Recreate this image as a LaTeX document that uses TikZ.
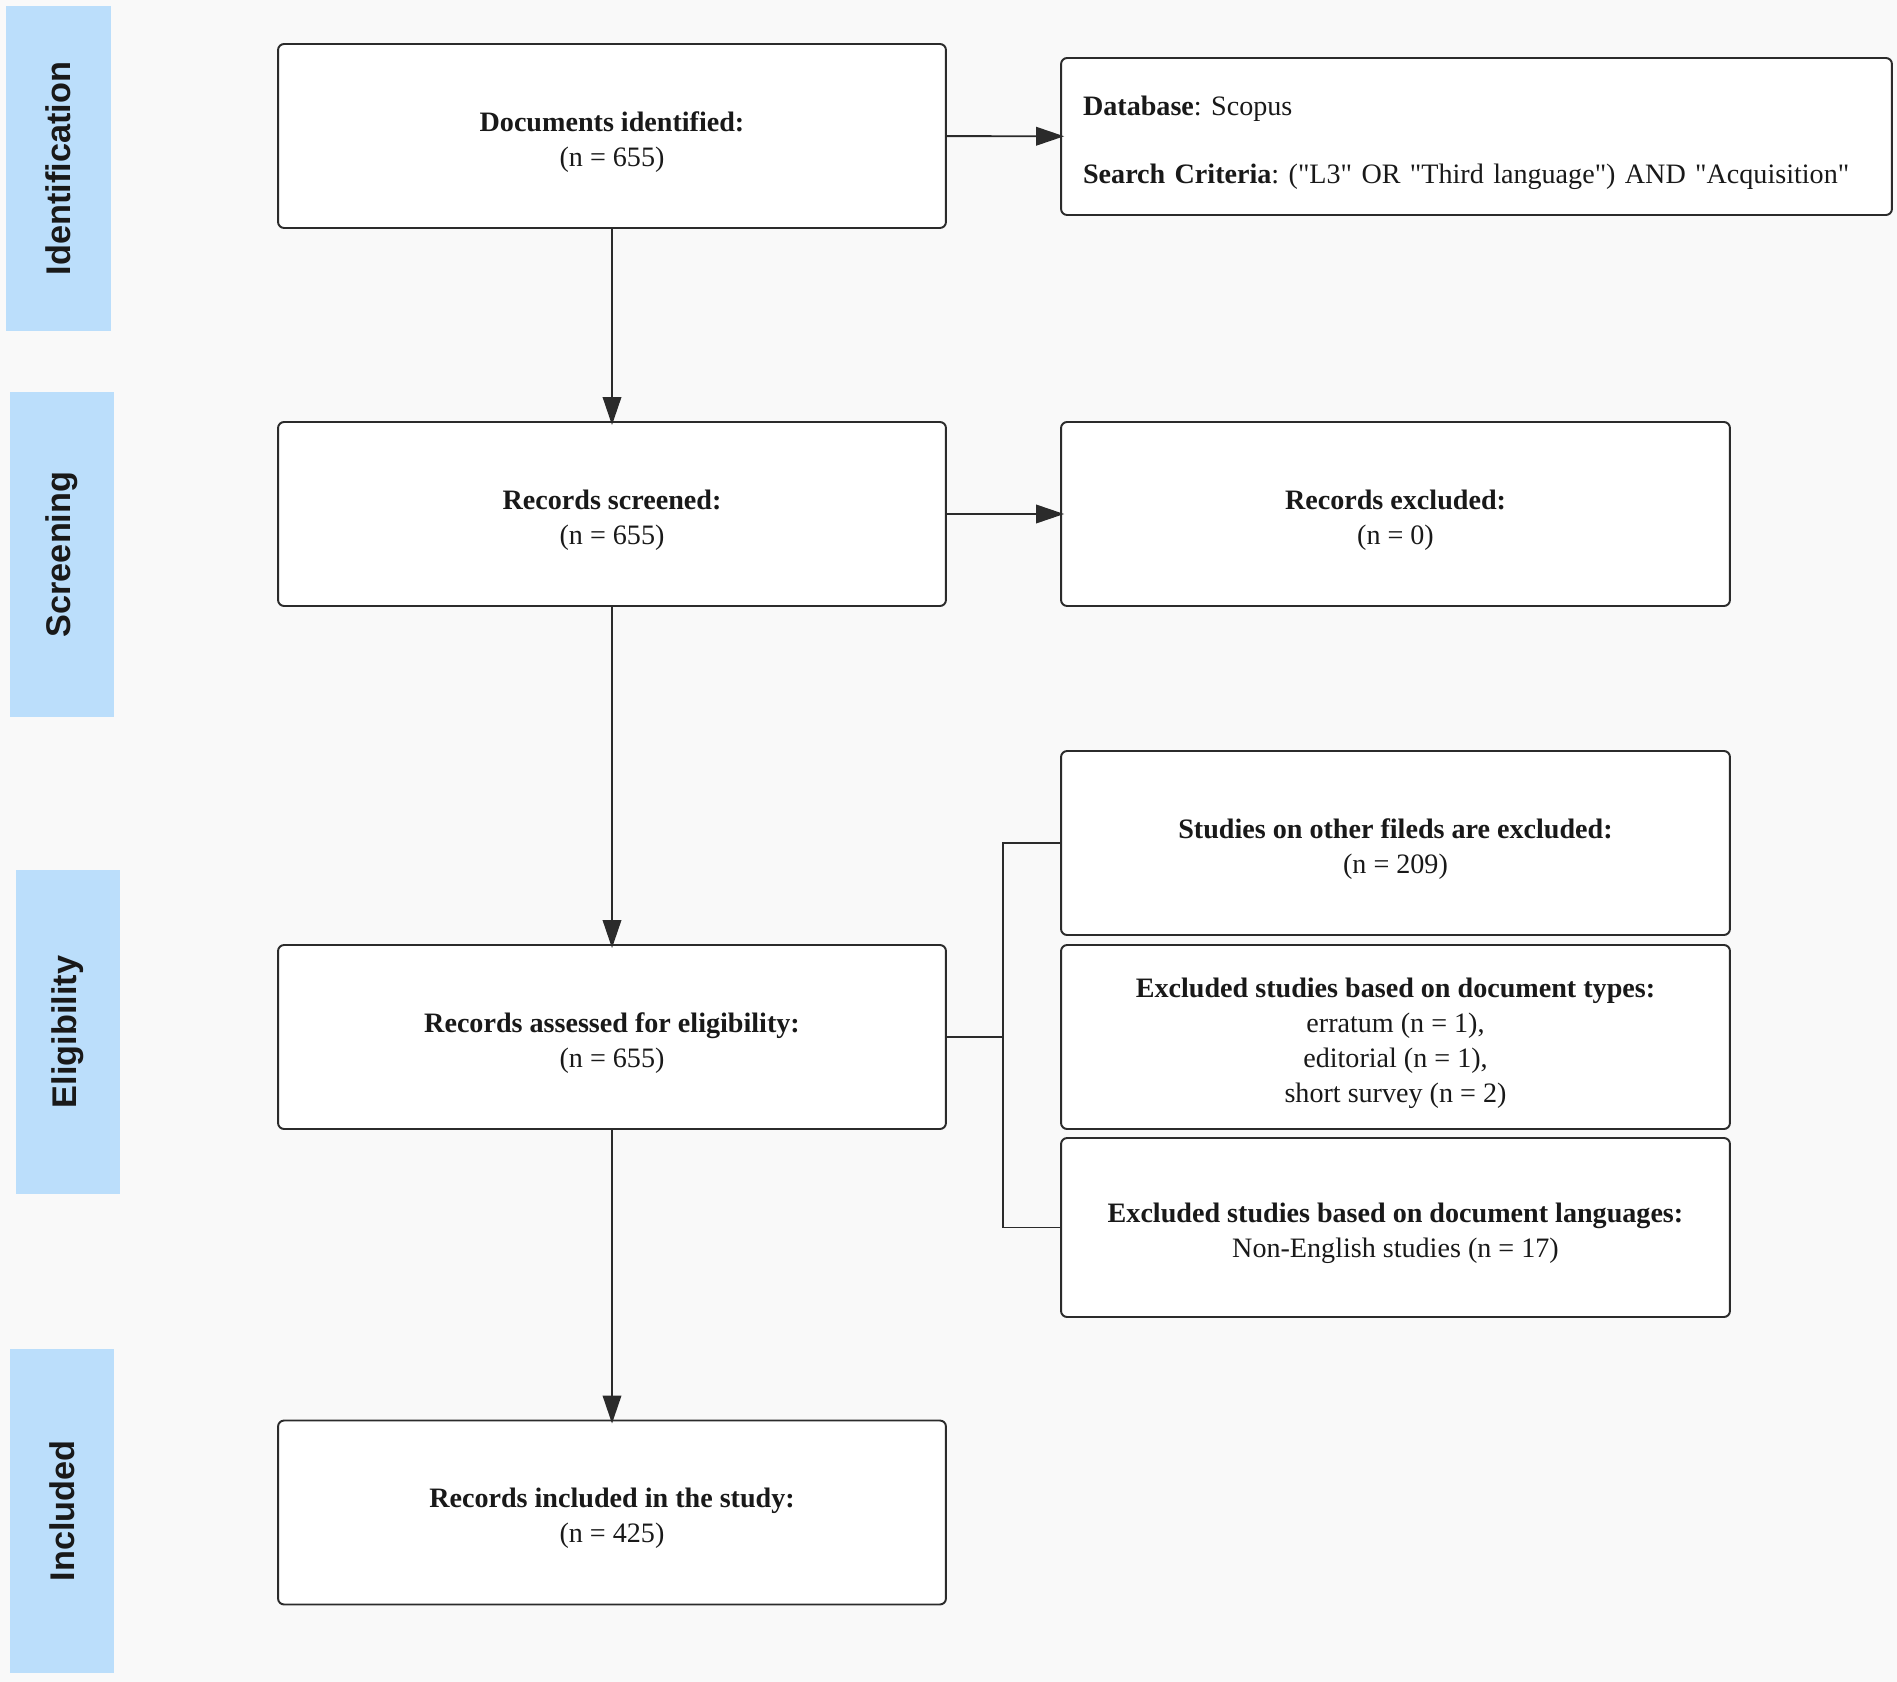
\documentclass[tikz,border=0pt]{standalone}
\usepackage{fontspec}
\setmainfont{Liberation Serif}[Ligatures=TeXOff]
\newfontfamily\stagefont{Liberation Sans}
\usetikzlibrary{arrows.meta}
\definecolor{stageblue}{HTML}{BBDEFB}
\definecolor{pagegrey}{HTML}{F9F9F9}
\definecolor{inkgrey}{HTML}{2B2B2B}
\frenchspacing
\newcommand\boxstrut{\rule{0pt}{18pt}}

\begin{document}
\begin{tikzpicture}[x=0.02cm, y=-0.02cm, line width=1.1pt,
  font=\fontsize{16}{20}\selectfont,
  box/.style={draw=inkgrey, fill=white, rounded corners=0.12cm, align=center,
    minimum width=13.36cm, minimum height=3.68cm, text=black!90},
  stage/.style={fill=stageblue, rotate=90, minimum width=6.5cm, minimum height=2.1cm,
    text=black!90, font=\stagefont\bfseries\fontsize{19.5}{23}\selectfont},
  flow/.style={draw=inkgrey, shorten >=-0.08cm, -{Triangle[length=0.56cm,width=0.37cm]}},
  link/.style={draw=inkgrey}]

  % ---------- page ----------
  \fill[pagegrey] (0,0) rectangle (1897,1682);
  \useasboundingbox (0,0) rectangle (1897,1682);

  % ---------- stage bars ----------
  \node[stage] (identbar)  at (58.5,168.5) {Identification};
  \node[stage] (screenbar) at (62,554.5)   {Screening};
  \node[stage] (eligbar)   at (68,1032)    {Eligibility};
  \node[stage] (inclbar)   at (62,1511)    {Included};

  % ---------- main column ----------
  \node[box] (ident)  at (612,136)     {\boxstrut\textbf{Documents identified:}\\(n = 655)};
  \node[box] (screen) at (612,514)     {\boxstrut\textbf{Records screened:}\\(n = 655)};
  \node[box] (assess) at (612,1037)    {\boxstrut\textbf{Records assessed for eligibility:}\\(n = 655)};
  \node[box] (incl)   at (612,1512.5)  {\boxstrut\textbf{Records included in the study:}\\(n = 425)};

  % ---------- side boxes ----------
  \node[box, minimum width=16.62cm, minimum height=3.14cm, inner xsep=0.44cm,
        text width=15.74cm, align=left] (db) at (1476.5,136.5)
        {\boxstrut\textbf{Database}: Scopus\\[19pt]\textbf{Search Criteria}: ("L3" OR "Third language") AND "Acquisition"};
  \node[box, minimum width=13.38cm] (recexcl) at (1395.5,514)
        {\boxstrut\textbf{Records excluded:}\\(n = 0)};
  \node[box, minimum width=13.38cm] (fields)  at (1395.5,843)
        {\boxstrut\textbf{Studies on other fileds are excluded:}\\(n = 209)};
  \node[box, minimum width=13.38cm] (types)   at (1395.5,1037)
        {\boxstrut\textbf{Excluded studies based on document types:}\\erratum (n = 1),\\editorial (n = 1),\\short survey (n = 2)};
  \node[box, minimum width=13.38cm, minimum height=3.58cm] (langs) at (1395.5,1227.5)
        {\boxstrut\textbf{Excluded studies based on document languages:}\\Non-English studies (n = 17)};

  % ---------- connectors ----------
  \draw[flow] (ident) -- (db);
  \draw[flow] (screen) -- (recexcl);
  \draw[flow] (ident) -- (screen);
  \draw[flow] (screen) -- (assess);
  \draw[flow] (assess) -- (incl);

  \coordinate (split) at (1003,1037);
  \draw[link] (assess) -- (split);
  \draw[link] (fields.west) -| (split);
  \draw[link] (langs.west) -| (split);

\end{tikzpicture}
\end{document}
